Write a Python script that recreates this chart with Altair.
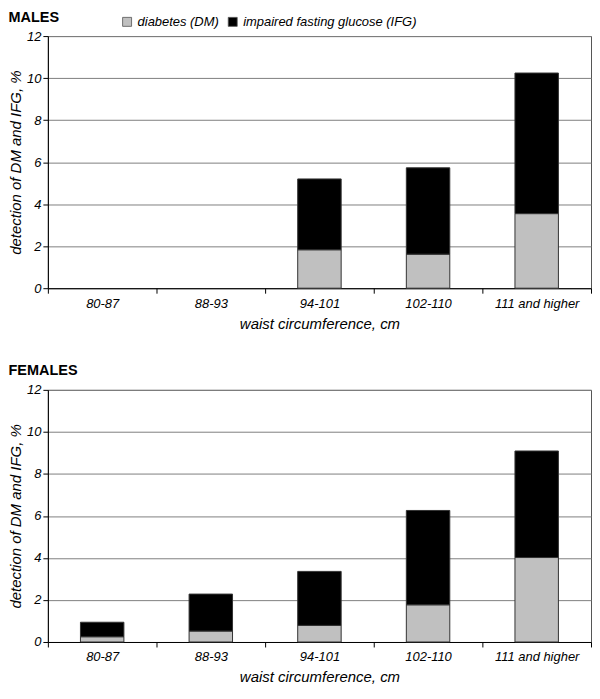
import altair as alt
import pandas as pd

categories = ["80-87", "88-93", "94-101", "102-110", "111 and higher"]
series = ["diabetes (DM)", "impaired fasting glucose (IFG)"]

males_dm = [0.0, 0.0, 1.83, 1.62, 3.55]
males_ifg = [0.0, 0.0, 3.37, 4.11, 6.69]

females_dm = [0.25, 0.52, 0.79, 1.77, 4.02]
females_ifg = [0.69, 1.76, 2.57, 4.49, 5.07]

y_ticks = [0, 2, 4, 6, 8, 10, 12]

FONT = "Liberation Sans"


def panel(title, dm, ifg):
    df = pd.DataFrame({
        "waist": categories * 2,
        "series": [series[0]] * len(categories) + [series[1]] * len(categories),
        "value": dm + ifg,
        "ord": [0] * len(categories) + [1] * len(categories),
    })
    return alt.Chart(
        df,
        title=alt.TitleParams(title, anchor="start", font=FONT, fontSize=14.5,
                              fontWeight="bold", color="black", offset=5),
    ).transform_filter(
        "datum.value > 0"
    ).mark_bar(
        width=alt.RelativeBandSize(0.4), stroke="#333333", strokeWidth=1
    ).encode(
        x=alt.X("waist:N", sort=categories,
                scale=alt.Scale(domain=categories, paddingInner=0, paddingOuter=0),
                axis=alt.Axis(title="waist circumference, cm", labelAngle=0,
                              tickBand="extent", grid=False, labelPadding=4,
                              titlePadding=6)),
        y=alt.Y("value:Q", stack="zero",
                scale=alt.Scale(domain=[0, 12], nice=False),
                axis=alt.Axis(values=y_ticks, title="detection of DM and IFG, %",
                              grid=True, titlePadding=3, labelPadding=2)),
        color=alt.Color("series:N",
                        scale=alt.Scale(domain=series, range=["#c0c0c0", "#000000"]),
                        legend=alt.Legend(orient="none", direction="horizontal",
                                          legendX=73, legendY=-21, title=None,
                                          symbolType="square", symbolSize=81,
                                          symbolStrokeColor="#555555",
                                          symbolStrokeWidth=0.8,
                                          labelFontStyle="italic", labelFont=FONT,
                                          labelFontSize=13, labelLimit=0,
                                          columnPadding=7, labelOffset=4,
                                          labelColor="black")),
        order=alt.Order("ord:Q"),
    ).properties(width=545, height=253)


chart = alt.vconcat(
    panel("MALES", males_dm, males_ifg),
    panel("FEMALES", females_dm, females_ifg),
    spacing=31,
).properties(
    padding={"left": 0, "top": 0, "right": 0, "bottom": 0}
).configure_axis(
    labelFont=FONT, titleFont=FONT, labelFontSize=13, titleFontSize=15,
    labelFontStyle="italic", titleFontStyle="italic", titleFontWeight="normal",
    labelColor="black", titleColor="black", domainColor="#000000",
    tickColor="#000000", tickSize=5, gridColor="#808080", gridWidth=1,
).configure_view(
    stroke="#555555", strokeWidth=1
)

chart.save("out.html", embed_options={"renderer": "svg", "actions": False})
